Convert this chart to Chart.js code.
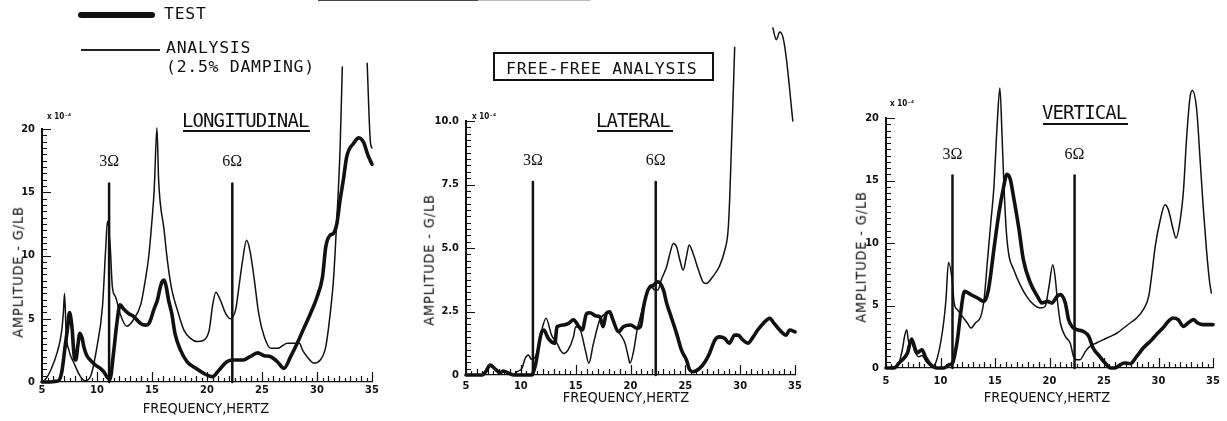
<!DOCTYPE html>
<html>
<head>
<meta charset="utf-8">
<script src="https://cdn.jsdelivr.net/npm/chart.js@4.4.1/dist/chart.umd.min.js"></script>
<style>
  html, body { margin: 0; padding: 0; background: #fff; }
  #fig { position: relative; width: 1227px; height: 421px; overflow: hidden; background: #fff; color: #111; }
  #fig canvas { position: absolute; top: 0; }
  .t { position: absolute; white-space: nowrap; line-height: 1; font-family: 'DejaVu Sans Mono', monospace; }
  .leg { font-size: 16.5px; letter-spacing: 0.7px; }
  .ttl { font-size: 19px; letter-spacing: -0.9px; }
  .ul { position: absolute; height: 2px; background: #111; }
  .ax { position: absolute; white-space: nowrap; line-height: 1; font-family: 'DejaVu Sans Condensed', 'DejaVu Sans', sans-serif; font-size: 14.5px; transform: translate(-50%, -50%); }
  .ay { position: absolute; white-space: nowrap; line-height: 1; font-family: 'DejaVu Sans Condensed', 'DejaVu Sans', sans-serif; font-size: 14.5px; letter-spacing: 0.8px; transform: translate(-50%, -50%) rotate(-90deg); }
  .exp { position: absolute; white-space: nowrap; line-height: 1; font-family: 'DejaVu Sans Condensed', sans-serif; font-size: 8px; font-weight: bold; }
</style>
</head>
<body>
<div id="fig">
  <canvas id="pLong" width="400" height="421" style="left:0"></canvas>
  <canvas id="pLat" width="420" height="421" style="left:400px"></canvas>
  <canvas id="pVert" width="407" height="421" style="left:820px"></canvas>

  <!-- scan edge remnant at the top -->
  <div style="position:absolute;left:318px;top:0;width:160px;height:1px;background:#444"></div>
  <div style="position:absolute;left:478px;top:0;width:112px;height:1px;background:#bbb"></div>

  <!-- key -->
  <div style="position:absolute;left:78px;top:12px;width:77px;height:6px;border-radius:3px;background:#111"></div>
  <div class="t leg" style="left:164px;top:6px">TEST</div>
  <div style="position:absolute;left:81px;top:49px;width:79px;height:1.6px;background:#222"></div>
  <div class="t leg" style="left:166px;top:40px">ANALYSIS</div>
  <div class="t leg" style="left:166px;top:59px">(2.5% DAMPING)</div>

  <!-- boxed heading -->
  <div style="position:absolute;left:493px;top:52px;width:221px;height:29px;box-sizing:border-box;border:2px solid #111"></div>
  <div class="t leg" style="left:506px;top:61px">FREE-FREE ANALYSIS</div>

  <!-- panel titles -->
  <div class="t ttl" style="left:182px;top:111px">LONGITUDINAL</div>
  <div class="ul" style="left:183px;top:130px;width:127px"></div>
  <div class="t ttl" style="left:596px;top:111px">LATERAL</div>
  <div class="ul" style="left:597px;top:130px;width:76px"></div>
  <div class="t ttl" style="left:1042px;top:103px">VERTICAL</div>
  <div class="ul" style="left:1043px;top:123px;width:85px"></div>

  <!-- scale multipliers -->
  <div class="exp" style="left:47px;top:113px">x 10⁻⁴</div>
  <div class="exp" style="left:472px;top:113px">x 10⁻⁴</div>
  <div class="exp" style="left:890px;top:100px">x 10⁻⁴</div>

  <!-- axis titles -->
  <div class="ay" style="left:17.5px;top:272px">AMPLITUDE - G/LB</div>
  <div class="ay" style="left:429px;top:260px">AMPLITUDE - G/LB</div>
  <div class="ay" style="left:861px;top:257px">AMPLITUDE - G/LB</div>
  <div class="ax" style="left:206px;top:408px">FREQUENCY,HERTZ</div>
  <div class="ax" style="left:626px;top:397px">FREQUENCY,HERTZ</div>
  <div class="ax" style="left:1047px;top:397px">FREQUENCY,HERTZ</div>
</div>

<script>
// ---- Frequency response data (amplitude in units of 1e-4 G/LB) ----
// A null amplitude marks where the analysis curve runs off the top of the plot.

const longTestHz = [5.0, 5.6, 6.2, 6.5, 6.8, 7.1, 7.3, 7.5, 7.65, 7.75, 7.85, 7.95, 8.08, 8.26, 8.44, 8.65, 8.8, 9.05, 9.25, 9.86, 10.3, 10.6, 10.9, 11.17, 11.5, 11.8, 12.1, 12.4, 12.9, 13.3, 14.0, 14.4, 14.7, 15.2, 15.5, 15.7, 15.9, 16.1, 16.3, 16.5, 16.8, 17.1, 17.6, 18.2, 19.0, 19.7, 20.5, 21.1, 21.8, 22.4, 23.3, 23.9, 24.6, 25.2, 25.8, 26.4, 27.0, 27.6, 28.2, 28.8, 29.4, 30.0, 30.5, 30.8, 31.2, 31.5, 31.8, 32.1, 32.4, 32.7, 33.35, 33.8, 34.26, 34.56, 35.0];
const longTestAmp = [0.0, 0.0, 0.05, 0.1, 0.8, 2.8, 4.1, 5.5, 4.9, 4.1, 2.8, 1.9, 1.74, 2.9, 3.85, 3.45, 2.8, 2.13, 1.87, 1.34, 1.08, 0.82, 0.42, 0.2, 2.27, 4.6, 6.1, 5.8, 5.4, 5.2, 4.6, 4.5, 4.6, 5.8, 6.5, 7.3, 7.9, 8.06, 7.5, 6.5, 5.4, 3.8, 2.5, 1.6, 1.08, 0.68, 0.42, 0.95, 1.6, 1.74, 1.74, 2.0, 2.3, 2.08, 2.0, 1.6, 1.08, 2.0, 3.06, 4.24, 5.4, 6.7, 8.3, 10.7, 11.6, 11.75, 12.5, 14.4, 16.0, 17.8, 18.9, 19.3, 18.9, 18.1, 17.2];

const longAnalysisHz = [5.0, 5.3, 5.8, 6.4, 6.8, 6.95, 7.05, 7.2, 7.45, 7.9, 8.5, 8.9, 9.4, 10.0, 10.5, 10.8, 10.95, 11.2, 11.4, 11.7, 12.1, 12.7, 13.3, 14.0, 14.4, 14.7, 15.0, 15.2, 15.45, 15.6, 16.1, 16.4, 16.8, 17.3, 17.9, 18.5, 19.1, 19.7, 20.2, 20.5, 20.8, 21.2, 21.7, 22.1, 22.6, 22.9, 23.2, 23.6, 23.9, 24.3, 24.7, 25.2, 25.8, 26.4, 27.3, 27.9, 28.4, 28.7, 29.1, 29.7, 30.3, 30.8, 31.2, 31.5, 31.8, 32.1, 32.3, 33.4, 34.56, 34.86, 35.0];
const longAnalysisAmp = [0.05, 0.2, 0.95, 2.4, 4.1, 5.6, 7.0, 3.8, 2.5, 1.5, 0.42, 0.1, 0.42, 2.8, 6.0, 10.7, 12.7, 10.7, 7.5, 6.7, 5.4, 4.4, 4.9, 6.2, 8.1, 9.9, 12.8, 15.2, 20.1, 16.0, 12.0, 9.6, 7.3, 5.7, 4.1, 3.45, 3.2, 3.3, 4.1, 6.0, 7.1, 6.5, 5.4, 5.0, 5.7, 7.5, 9.4, 11.2, 10.4, 8.1, 5.4, 3.6, 2.66, 2.66, 3.06, 3.06, 3.06, 2.5, 2.0, 1.5, 1.74, 2.8, 5.4, 8.1, 12.8, 18.5, 24.9, null, 25.2, 18.9, 18.5];

const latTestHz = [5.0, 6.5, 6.8, 7.2, 7.7, 8.1, 8.4, 8.9, 9.35, 11.0, 11.3, 11.9, 12.1, 12.5, 13.1, 13.3, 13.9, 14.35, 14.8, 15.3, 15.6, 16.0, 16.3, 16.9, 17.2, 17.5, 17.8, 18.1, 18.4, 18.9, 19.35, 20.0, 20.6, 20.9, 21.2, 21.6, 22.1, 22.5, 23.0, 23.3, 23.7, 24.2, 24.65, 25.1, 25.4, 25.7, 26.3, 26.8, 27.2, 27.7, 28.1, 28.6, 29.0, 29.5, 29.8, 30.25, 30.7, 31.2, 31.6, 32.1, 32.7, 33.1, 33.6, 34.2, 34.5, 35.0];
const latTestAmp = [0.0, 0.0, 0.13, 0.39, 0.22, 0.09, 0.16, 0.07, 0.0, 0.0, 0.33, 1.7, 1.77, 1.44, 1.25, 1.9, 1.97, 2.03, 2.17, 1.9, 1.77, 2.43, 2.45, 2.32, 2.3, 1.9, 2.43, 2.49, 2.17, 1.7, 1.9, 1.97, 1.84, 1.9, 2.7, 3.35, 3.54, 3.67, 3.35, 2.82, 2.3, 1.64, 0.98, 0.59, 0.2, 0.13, 0.26, 0.52, 0.85, 1.38, 1.5, 1.44, 1.25, 1.57, 1.57, 1.38, 1.25, 1.51, 1.77, 2.03, 2.23, 2.03, 1.77, 1.57, 1.77, 1.7];

const latAnalysisHz = [5.0, 6.5, 6.8, 7.2, 7.7, 8.1, 8.4, 8.9, 9.35, 9.65, 10.1, 10.4, 10.7, 10.95, 11.3, 11.6, 11.9, 12.3, 12.8, 13.3, 13.6, 13.9, 14.3, 14.8, 15.0, 15.4, 15.9, 16.2, 16.6, 17.2, 17.8, 18.1, 18.6, 19.0, 19.5, 19.8, 19.95, 20.3, 20.6, 20.9, 21.3, 21.8, 22.2, 22.5, 22.8, 23.3, 23.6, 23.9, 24.2, 24.5, 24.8, 25.1, 25.35, 25.7, 26.2, 26.6, 26.9, 27.5, 28.1, 28.6, 28.9, 29.05, 29.5, 31.2, 32.98, 33.3, 33.6, 33.9, 34.2, 34.8];
const latAnalysisAmp = [0.0, 0.0, 0.13, 0.39, 0.22, 0.09, 0.16, 0.07, 0.0, 0.13, 0.26, 0.66, 0.79, 0.62, 0.7, 1.1, 1.75, 2.23, 1.57, 1.25, 0.98, 0.85, 0.98, 1.5, 1.9, 1.8, 0.95, 0.46, 1.2, 2.17, 2.43, 2.45, 1.9, 1.64, 1.25, 0.72, 0.46, 0.98, 1.77, 2.3, 2.95, 3.54, 3.35, 3.35, 3.74, 4.27, 4.79, 5.18, 5.05, 4.53, 4.13, 4.66, 5.12, 4.79, 4.13, 3.67, 3.6, 3.87, 4.27, 4.92, 5.7, 7.0, 12.9, null, 13.66, 13.2, 13.5, 13.3, 12.5, 10.0];

const vertTestHz = [5.0, 5.76, 6.2, 6.66, 6.97, 7.35, 7.6, 7.84, 8.3, 8.66, 9.1, 9.7, 10.3, 10.8, 11.1, 11.55, 11.85, 12.2, 12.8, 13.4, 14.0, 14.4, 14.9, 15.36, 15.75, 16.1, 16.4, 16.7, 17.2, 17.6, 18.25, 18.9, 19.3, 19.8, 20.2, 20.7, 21.0, 21.45, 21.75, 22.06, 22.5, 23.1, 23.6, 24.0, 24.6, 25.1, 25.6, 26.0, 26.5, 26.9, 27.4, 28.0, 28.6, 29.4, 29.8, 30.4, 30.9, 31.35, 31.8, 32.3, 32.7, 33.2, 33.6, 34.1, 34.55, 35.0];
const vertTestAmp = [0.0, 0.0, 0.4, 0.8, 1.2, 2.32, 1.73, 1.2, 1.46, 0.8, 0.26, 0.0, 0.0, 0.26, 0.4, 2.26, 4.4, 6.13, 5.86, 5.6, 5.33, 6.27, 9.5, 12.4, 14.3, 15.5, 15.1, 13.7, 11.1, 8.67, 6.8, 5.73, 5.2, 5.33, 5.2, 5.73, 5.87, 5.2, 3.87, 3.33, 3.07, 2.93, 2.53, 1.6, 0.93, 0.4, 0.0, 0.0, 0.27, 0.4, 0.35, 0.93, 1.6, 2.27, 2.67, 3.2, 3.73, 4.0, 3.87, 3.33, 3.6, 3.87, 3.6, 3.47, 3.47, 3.47];

const vertAnalysisHz = [5.0, 6.07, 6.5, 6.7, 6.9, 7.1, 7.35, 7.6, 8.0, 8.3, 8.7, 9.2, 9.6, 10.2, 10.5, 10.73, 11.1, 11.25, 11.55, 12.0, 12.46, 12.8, 13.2, 13.7, 14.0, 14.3, 14.6, 14.9, 15.2, 15.45, 15.65, 15.85, 16.05, 16.3, 16.7, 17.3, 17.9, 18.55, 19.2, 19.6, 19.95, 20.3, 20.5, 20.75, 21.0, 21.45, 21.9, 22.2, 22.5, 22.8, 23.3, 23.7, 24.3, 24.95, 25.6, 26.2, 26.8, 27.4, 28.0, 28.6, 29.1, 29.4, 29.7, 30.1, 30.6, 30.9, 31.35, 31.6, 31.95, 32.3, 32.57, 32.9, 33.1, 33.5, 33.8, 34.1, 34.4, 34.7, 34.85];
const vertAnalysisAmp = [0.0, 0.2, 1.46, 2.53, 3.06, 2.0, 2.1, 1.4, 0.9, 1.0, 0.5, 0.15, 0.5, 3.06, 5.46, 8.45, 6.8, 5.2, 4.67, 4.13, 3.6, 3.2, 3.6, 4.13, 5.5, 8.5, 11.5, 14.5, 19.5, 22.4, 18.5, 14.0, 10.8, 8.9, 7.9, 6.67, 5.73, 5.07, 4.8, 4.93, 6.5, 8.27, 7.4, 5.2, 3.6, 2.53, 2.0, 0.93, 0.67, 0.67, 1.33, 1.73, 2.0, 2.27, 2.53, 2.8, 3.2, 3.6, 4.0, 4.67, 5.73, 7.6, 9.73, 11.6, 13.07, 12.67, 11.07, 10.4, 11.6, 14.3, 18.3, 21.7, 22.2, 20.7, 16.9, 12.9, 9.47, 6.8, 6.0];

// Shaft-order markers (3 and 6 times rotor speed) and the heights of their marker lines
const harmonicHz = [11.1, 22.3];
const harmonicLabels = ['3Ω', '6Ω'];
const longHarmonicTop = 15.7;
const latHarmonicTop = 7.6;
const vertHarmonicTop = 15.4;

// Axis ticks
const freqTicks = [5, 10, 15, 20, 25, 30, 35];
const longAmpTicks = [0, 5, 10, 15, 20];
const latAmpTicks = ['0', '2.5', '5.0', '7.5', '10.0'];
const vertAmpTicks = [0, 5, 10, 15, 20];

// ---- drawing ----
const INK = '#111';
const tickFont = { family: "'Liberation Sans Narrow', 'DejaVu Sans Condensed', sans-serif", size: 11, weight: 'bold' };

function toPoints(hz, amp) {
  return hz.map((f, i) => ({ x: f, y: amp[i] }));
}

// Minor/major tick marks drawn inside the axes, plus the harmonic labels
const axisMarks = {
  id: 'axisMarks',
  afterDatasetsDraw(chart, args, opts) {
    const { ctx, chartArea: a, scales: { x, y } } = chart;
    ctx.save();
    ctx.strokeStyle = INK;
    ctx.lineWidth = 1.2;
    ctx.beginPath();
    const ny = Math.round((y.max - y.min) / opts.yMinor);
    for (let i = 0; i <= ny; i++) {
      const v = y.min + i * opts.yMinor;
      const r = v / opts.yMajor;
      const major = Math.abs(r - Math.round(r)) < 1e-6;
      const py = Math.round(y.getPixelForValue(v)) + 0.5;
      ctx.moveTo(a.left, py);
      ctx.lineTo(a.left + (major ? 9 : 5), py);
    }
    const nx = Math.round((x.max - x.min) / opts.xMinor);
    for (let i = 0; i <= nx; i++) {
      const v = x.min + i * opts.xMinor;
      const major = Math.abs(v / 5 - Math.round(v / 5)) < 1e-6;
      const whole = Math.abs(v - Math.round(v)) < 1e-6;
      const px = Math.round(x.getPixelForValue(v)) + 0.5;
      ctx.moveTo(px, a.bottom);
      ctx.lineTo(px, a.bottom - (major ? 10 : whole ? 6 : 4));
    }
    ctx.stroke();

    ctx.fillStyle = INK;
    ctx.font = "16px 'Liberation Serif', 'DejaVu Serif', serif";
    ctx.textAlign = 'center';
    ctx.textBaseline = 'alphabetic';
    chart.data.datasets.forEach((ds, i) => {
      if (!ds.harmonicLabel) return;
      const top = chart.getDatasetMeta(i).data[1];
      ctx.fillText(ds.harmonicLabel, top.x, top.y - 17);
    });
    ctx.restore();
  }
};

function makePanel(canvasId, p) {
  const el = document.getElementById(canvasId);
  const datasets = [
    { data: toPoints(p.testHz, p.testAmp), borderWidth: 3.6 },
    { data: toPoints(p.anaHz, p.anaAmp), borderWidth: 1.5 }
  ];
  harmonicHz.forEach((f, i) => {
    datasets.push({
      data: [{ x: f, y: 0 }, { x: f, y: p.harmonicTop }],
      borderWidth: 2.5,
      harmonicLabel: harmonicLabels[i],
      cubicInterpolationMode: 'default',
      tension: 0
    });
  });
  datasets.forEach(ds => {
    ds.borderColor = INK;
    ds.pointRadius = 0;
    ds.fill = false;
    ds.clip = false;
    ds.spanGaps = false;
    ds.borderJoinStyle = 'round';
    ds.borderCapStyle = 'round';
    if (ds.cubicInterpolationMode === undefined) ds.cubicInterpolationMode = 'monotone';
  });

  return new Chart(el, {
    type: 'line',
    data: { datasets },
    options: {
      responsive: false,
      animation: false,
      devicePixelRatio: 1,
      events: [],
      layout: { padding: { left: 0, top: p.area.top, right: el.width - p.area.right, bottom: 0 } },
      plugins: {
        legend: { display: false },
        tooltip: { enabled: false },
        axisMarks: { yMinor: p.yMinor, yMajor: p.yStep, xMinor: 0.5 }
      },
      scales: {
        x: {
          type: 'linear',
          min: freqTicks[0],
          max: freqTicks[freqTicks.length - 1],
          afterFit: s => { s.height = el.height - p.area.bottom; },
          afterBuildTicks: s => { s.ticks = freqTicks.map(v => ({ value: v })); },
          grid: { display: false, drawTicks: false },
          border: { display: true, color: INK, width: 1.2 },
          ticks: { padding: p.xPad, font: tickFont, color: INK, maxRotation: 0, autoSkip: false }
        },
        y: {
          type: 'linear',
          min: 0,
          max: p.yMax,
          afterFit: s => { s.width = p.area.left; },
          afterBuildTicks: s => { s.ticks = p.yTicks.map(v => ({ value: Number(v) })); },
          grid: { display: false, drawTicks: false },
          border: { display: true, color: INK, width: 2 },
          ticks: {
            padding: 7, font: tickFont, color: INK, autoSkip: false,
            callback: (v, i) => String(p.yTicks[i])
          }
        }
      }
    },
    plugins: [axisMarks]
  });
}

makePanel('pLong', {
  testHz: longTestHz, testAmp: longTestAmp, anaHz: longAnalysisHz, anaAmp: longAnalysisAmp,
  harmonicTop: longHarmonicTop, yTicks: longAmpTicks, yMax: 20, yStep: 5, yMinor: 0.5, xPad: 2,
  area: { left: 42, right: 372, top: 129, bottom: 382 }
});
makePanel('pLat', {
  testHz: latTestHz, testAmp: latTestAmp, anaHz: latAnalysisHz, anaAmp: latAnalysisAmp,
  harmonicTop: latHarmonicTop, yTicks: latAmpTicks, yMax: 10, yStep: 2.5, yMinor: 0.25, xPad: 5,
  area: { left: 66, right: 395, top: 121, bottom: 375 }
});
makePanel('pVert', {
  testHz: vertTestHz, testAmp: vertTestAmp, anaHz: vertAnalysisHz, anaAmp: vertAnalysisAmp,
  harmonicTop: vertHarmonicTop, yTicks: vertAmpTicks, yMax: 20, yStep: 5, yMinor: 0.5, xPad: 7,
  area: { left: 66, right: 393, top: 118, bottom: 368 }
});
</script>
</body>
</html>
